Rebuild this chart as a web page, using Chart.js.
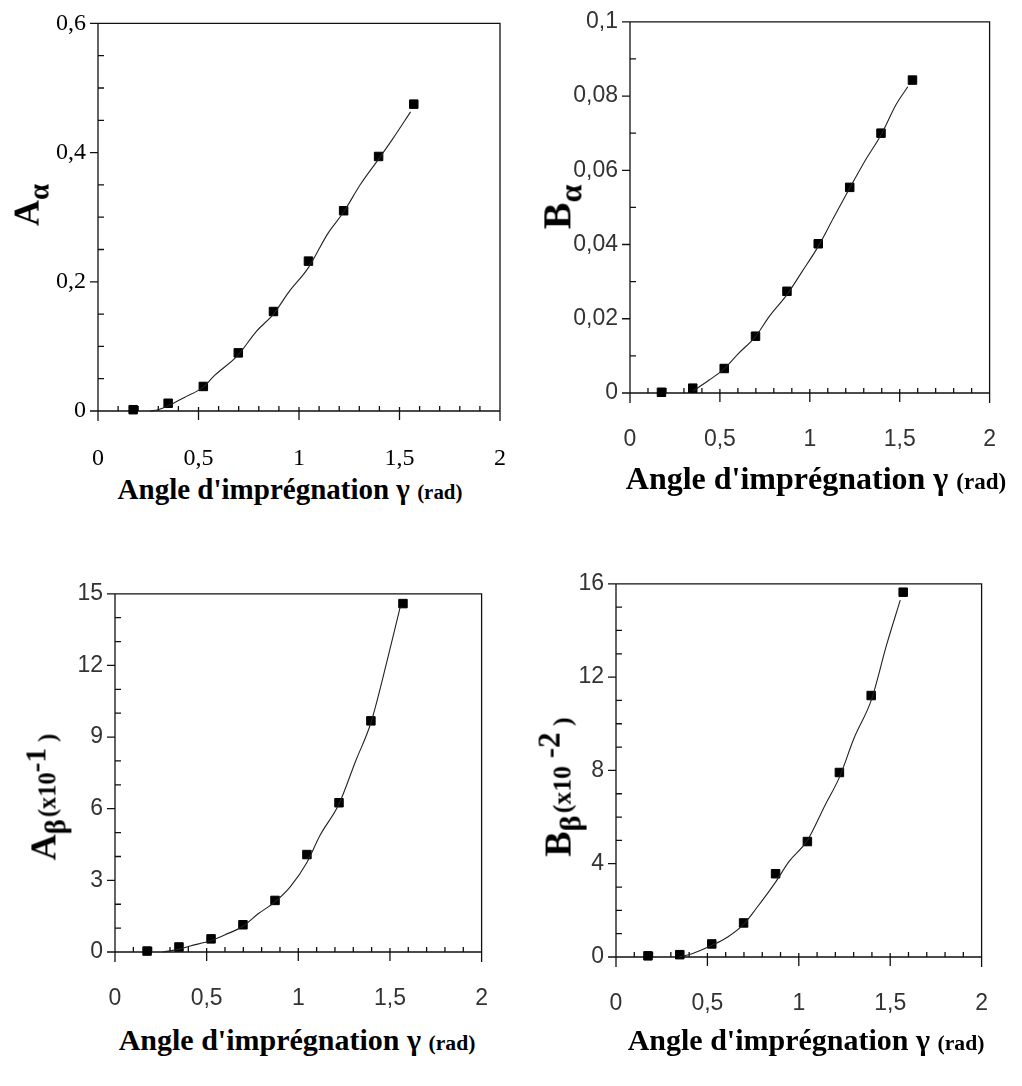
<!DOCTYPE html>
<html lang="fr">
<head>
  <meta charset="UTF-8">
  <title>Coefficients vs angle d'imprégnation</title>
  <script src="https://cdn.jsdelivr.net/npm/chart.js"></script>
  <style>
    body { margin: 0; background: #fff; }
    #page { position: relative; width: 1022px; height: 1086px; overflow: hidden; }
    .panel { position: absolute; }
    .xtitle {
      position: absolute; font-family: "Liberation Serif", serif; font-weight: bold;
      white-space: nowrap; line-height: 1; transform: translateX(-50%); color: #000;
    }
    .xtitle small { font-size: 0.72em; }
    .ytitle {
      position: absolute; font-family: "Liberation Serif", serif; font-weight: bold;
      white-space: nowrap; line-height: 1; color: #000;
      transform: translate(-50%, -50%) rotate(-90deg);
    }
    .ytitle sub { font-size: 0.8em; vertical-align: -0.35em; }
    .ytitle .unit { font-size: 0.68em; margin-left: 2px; }
    .ytitle sup { font-size: 1.2em; vertical-align: 0.35em; }
  </style>
</head>
<body>
<div id="page">
  <div class="panel" style="left:-2px;top:-3px"><canvas id="c1" width="541" height="474"></canvas></div>
  <div class="panel" style="left:530px;top:-4px"><canvas id="c2" width="499" height="457"></canvas></div>
  <div class="panel" style="left:15px;top:568px"><canvas id="c3" width="506" height="444"></canvas></div>
  <div class="panel" style="left:516px;top:558px"><canvas id="c4" width="505" height="459"></canvas></div>

  <div class="ytitle" style="left:31px;top:205px;font-size:36px">A<sub>α</sub></div>
  <div class="ytitle" style="left:562px;top:207px;font-size:40px">B<sub>α</sub></div>
  <div class="ytitle" style="left:46px;top:797px;font-size:36px">A<sub>β</sub><span class="unit">(x10<sup>-1</sup> )</span></div>
  <div class="ytitle" style="left:560px;top:787px;font-size:38px">B<sub>β</sub><span class="unit">(x10<sup> -2</sup> )</span></div>

  <div class="xtitle" style="left:290px;top:475px;font-size:29px">Angle d'imprégnation γ <small>(rad)</small></div>
  <div class="xtitle" style="left:816px;top:462px;font-size:32px">Angle d'imprégnation γ <small>(rad)</small></div>
  <div class="xtitle" style="left:297px;top:1025px;font-size:30px">Angle d'imprégnation γ <small>(rad)</small></div>
  <div class="xtitle" style="left:806px;top:1025px;font-size:30px">Angle d'imprégnation γ <small>(rad)</small></div>
</div>

<script>
  // impregnation angles (10° .. 90°) in rad
  const angleRad = [0.175, 0.349, 0.524, 0.698, 0.873, 1.047, 1.222, 1.396, 1.571];
  const xTicks = [0, 0.5, 1, 1.5, 2];
  const xTickLabels = ['0', '0,5', '1', '1,5', '2'];

  // A alpha
  const aAlpha = [0.002, 0.012, 0.038, 0.090, 0.154, 0.232, 0.310, 0.394, 0.475];
  const aAlphaFitX = [0.26, 0.30, 0.349, 0.43, 0.524, 0.58, 0.698, 0.787, 0.873, 0.949, 1.047, 1.144, 1.222, 1.306, 1.396, 1.468, 1.555];
  const aAlphaFitY = [0.0, 0.002, 0.008, 0.021, 0.037, 0.055, 0.087, 0.123, 0.150, 0.184, 0.222, 0.275, 0.308, 0.351, 0.390, 0.422, 0.463];
  const aAlphaTicks = [0, 0.2, 0.4, 0.6];
  const aAlphaTickLabels = ['0', '0,2', '0,4', '0,6'];

  // B alpha
  const bAlpha = [0.0002, 0.0013, 0.0066, 0.0153, 0.0274, 0.0402, 0.0554, 0.0700, 0.0843];
  const bAlphaFitX = [0.35, 0.44, 0.524, 0.60, 0.698, 0.776, 0.873, 0.957, 1.047, 1.13, 1.222, 1.309, 1.396, 1.48, 1.545];
  const bAlphaFitY = [0.0005, 0.0035, 0.0065, 0.0105, 0.0152, 0.0207, 0.0265, 0.0327, 0.0395, 0.047, 0.0552, 0.0627, 0.0695, 0.0777, 0.0825];
  const bAlphaTicks = [0, 0.02, 0.04, 0.06, 0.08, 0.1];
  const bAlphaTickLabels = ['0', '0,02', '0,04', '0,06', '0,08', '0,1'];

  // A beta (x10^-1)
  const aBeta = [0.04, 0.21, 0.55, 1.14, 2.16, 4.08, 6.25, 9.68, 14.59];
  const aBetaFitX = [0.26, 0.349, 0.41, 0.524, 0.60, 0.698, 0.781, 0.873, 0.958, 1.047, 1.118, 1.222, 1.313, 1.396, 1.491, 1.556];
  const aBetaFitY = [0.0, 0.12, 0.25, 0.48, 0.72, 1.08, 1.6, 2.1, 2.75, 3.75, 4.88, 6.2, 8.0, 9.6, 12.4, 14.45];
  const aBetaTicks = [0, 3, 6, 9, 12, 15];
  const aBetaTickLabels = ['0', '3', '6', '9', '12', '15'];

  // B beta (x10^-2)
  const bBeta = [0.05, 0.10, 0.56, 1.46, 3.57, 4.95, 7.91, 11.21, 15.64];
  const bBetaFitX = [0.342, 0.42, 0.524, 0.609, 0.698, 0.769, 0.872, 0.947, 1.047, 1.143, 1.222, 1.303, 1.396, 1.481, 1.555];
  const bBetaFitY = [0.0, 0.15, 0.5, 0.85, 1.4, 2.1, 3.2, 4.1, 5.0, 6.5, 7.7, 9.4, 11.0, 13.4, 15.3];
  const bBetaTicks = [0, 4, 8, 12, 16];
  const bBetaTickLabels = ['0', '4', '8', '12', '16'];

  // frame, x axis at y=0 and tick marks (major outward, minor inward)
  const framePlugin = {
    id: 'frame',
    beforeDatasetsDraw(chart, args, o) {
      const { ctx, chartArea: a, scales: { x, y } } = chart;
      const y0 = y.getPixelForValue(0);
      ctx.save();
      ctx.strokeStyle = '#111';
      ctx.lineWidth = 1.3;
      ctx.beginPath();
      ctx.moveTo(a.left, a.bottom + o.below);
      ctx.lineTo(a.left, a.top);
      ctx.lineTo(a.right, a.top);
      ctx.lineTo(a.right, a.bottom + o.below);
      ctx.moveTo(a.left, y0);
      ctx.lineTo(a.right, y0);
      // x ticks
      for (let i = 0; i * o.xMinor <= x.max + 1e-9; i++) {
        const v = i * o.xMinor;
        const px = x.getPixelForValue(v);
        if (xTicks.some(t => Math.abs(t - v) < 1e-6)) {
          ctx.moveTo(px, y0 - 4); ctx.lineTo(px, y0 + 9);
        } else {
          ctx.moveTo(px, y0 - 5); ctx.lineTo(px, y0);
        }
      }
      // y ticks
      for (let i = 0; i * o.yMinor <= y.max + 1e-9; i++) {
        const v = i * o.yMinor;
        const py = y.getPixelForValue(v);
        if (o.yMajor.some(t => Math.abs(t - v) < 1e-6)) {
          ctx.moveTo(a.left - 8, py); ctx.lineTo(a.left, py);
        } else {
          ctx.moveTo(a.left, py); ctx.lineTo(a.left + 6, py);
        }
      }
      ctx.stroke();
      ctx.restore();
    }
  };

  function makeChart(id, opts) {
    const ctx = document.getElementById(id).getContext('2d');
    const points = angleRad.map((v, i) => ({ x: v, y: opts.values[i] }));
    const fit = opts.fitX.map((v, i) => ({ x: v, y: opts.fitY[i] }));
    return new Chart(ctx, {
      type: 'scatter',
      data: {
        datasets: [{
          data: fit,
          showLine: true,
          borderColor: '#222',
          borderWidth: 1.1,
          pointRadius: 0,
          cubicInterpolationMode: 'monotone',
          clip: false
        }, {
          data: points,
          pointStyle: 'rect',
          pointRadius: 6,
          pointBackgroundColor: '#000',
          pointBorderColor: '#000',
          pointBorderWidth: 1,
          clip: false
        }]
      },
      options: {
        responsive: false,
        animation: false,
        events: [],
        layout: { padding: { left: 0, top: 20, right: 30, bottom: 0 } },
        plugins: {
          legend: { display: false },
          tooltip: { enabled: false },
          frame: { below: 10, xMinor: 0.1, yMinor: opts.yMinor, yMajor: opts.ticks }
        },
        scales: {
          x: {
            type: 'linear', min: 0, max: 2,
            grid: { display: false, drawTicks: false },
            border: { display: false },
            afterFit: s => { s.height = 60; },
            afterBuildTicks: s => { s.ticks = xTicks.map(v => ({ value: v })); },
            ticks: {
              padding: 33, maxRotation: 0, autoSkip: false,
              color: opts.tickColor, font: opts.tickFont,
              callback: (v, i) => xTickLabels[i]
            }
          },
          y: {
            type: 'linear', min: 0, max: opts.ticks[opts.ticks.length - 1],
            grid: { display: false, drawTicks: false },
            border: { display: false },
            afterFit: s => { s.width = 100; },
            afterBuildTicks: s => { s.ticks = opts.ticks.map(v => ({ value: v })); },
            ticks: {
              padding: 12, autoSkip: false,
              color: opts.tickColor, font: opts.tickFont,
              callback: (v, i) => opts.tickLabels[i]
            }
          }
        }
      },
      plugins: [framePlugin]
    });
  }

  const serifTicks = { family: "'Liberation Serif', serif", size: 24 };
  const sansTicks = { family: "'Liberation Sans Narrow', 'Liberation Sans', sans-serif", size: 23 };

  makeChart('c1', { values: aAlpha, fitX: aAlphaFitX, fitY: aAlphaFitY, ticks: aAlphaTicks, tickLabels: aAlphaTickLabels, yMinor: 0.05, tickColor: '#000', tickFont: serifTicks });
  makeChart('c2', { values: bAlpha, fitX: bAlphaFitX, fitY: bAlphaFitY, ticks: bAlphaTicks, tickLabels: bAlphaTickLabels, yMinor: 0.01, tickColor: '#333', tickFont: sansTicks });
  makeChart('c3', { values: aBeta, fitX: aBetaFitX, fitY: aBetaFitY, ticks: aBetaTicks, tickLabels: aBetaTickLabels, yMinor: 1, tickColor: '#333', tickFont: sansTicks });
  makeChart('c4', { values: bBeta, fitX: bBetaFitX, fitY: bBetaFitY, ticks: bBetaTicks, tickLabels: bBetaTickLabels, yMinor: 1, tickColor: '#333', tickFont: sansTicks });
</script>
</body>
</html>
